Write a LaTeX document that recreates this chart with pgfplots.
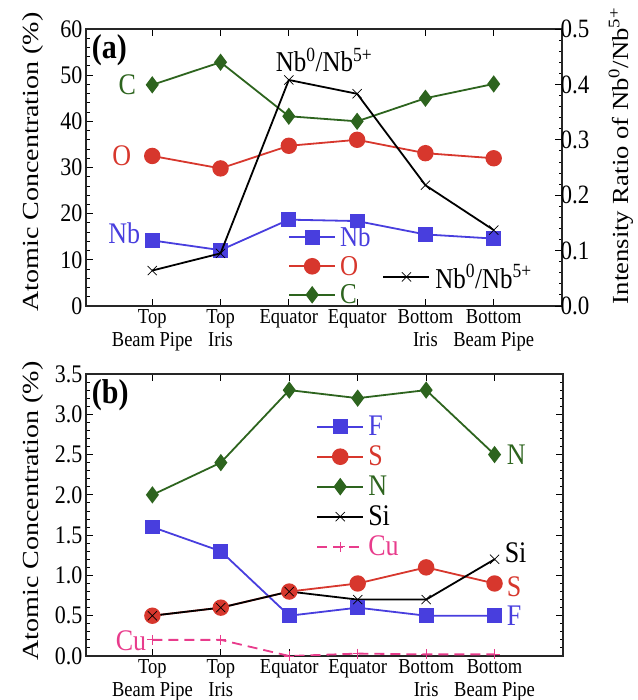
\documentclass[border=0pt]{standalone}
\usepackage{fontspec}
\setmainfont{Liberation Serif}
\usepackage{graphicx}
\usepackage{pgfplots}
\pgfplotsset{compat=1.18}
\definecolor{cblue}{RGB}{72,62,222}
\definecolor{cred}{RGB}{215,55,45}
\definecolor{cgreen}{RGB}{45,100,30}
\definecolor{cpink}{RGB}{232,60,140}
\newcommand{\vs}[1]{\scalebox{1}[1.15]{#1}}
\newcommand{\ratio}{Nb\textsuperscript{0}/Nb\textsuperscript{5+}}
\newcommand{\tl}[1]{\vs{\begin{tabular}[t]{@{}c@{}}#1\end{tabular}}}
\pgfplotsset{
  base/.style={
    scale only axis, anchor=south west,
    xmin=-0.97, xmax=6.0,
    tick align=inside, major tick length=7pt, minor tick length=3.5pt,
    every tick/.style={line width=0.9pt, black},
    axis line style={line width=1.3pt, black!85},
    /pgf/number format/assume math mode=true,
    tick label style={font=\fontsize{22}{24}\selectfont},
    yticklabel={\vs{\pgfmathprintnumber{\tick}}},
    label style={font=\fontsize{23}{25}\selectfont},
    legend image code/.code={\draw[mark repeat=2, mark phase=2, #1, line width=2pt] plot coordinates {(0pt,0pt) (23pt,0pt) (46pt,0pt)};},
  },
  xcat/.style={
    xtick={0,...,5}, xtick pos=both, xticklabel pos=bottom,
    xticklabels={{\tl{Top\\Beam Pipe}},{\tl{Top\\Iris}},{\tl{Equator}},{\tl{Equator}},{\tl{Bottom\\Iris}},{\tl{Bottom\\Beam Pipe}}},
    xticklabel style={anchor=north, font=\fontsize{18.5}{19.5}\selectfont, yshift=1.5pt},
  },
}
\begin{document}
\begin{tikzpicture}
\path[use as bounding box] (0pt,0pt) rectangle (637pt,700pt);
% ---------------- panel (a) left axis
\begin{axis}[base, xcat,
  at={(86pt,394pt)}, width=476pt, height=277pt,
  ymin=0, ymax=60, ytick={0,10,...,60}, minor y tick num=4, ytick pos=left,
  ylabel={\scalebox{1.22}[1]{Atomic Concentration (\%)}},
  ylabel style={at={(axis description cs:-0.111,0.52)}, anchor=center},
  legend style={draw=none, fill=none, at={(axis description cs:0.418,0.145)}, anchor=west,
    font=\fontsize{25}{27}\selectfont, nodes={inner sep=0pt},
    row sep=8pt, column sep=4pt},
  legend cell align=left,
]
\addplot[line width=1.8pt, cblue, mark=square*, mark size=6.5pt, mark options={solid}] coordinates {(0,14.2) (1,12.1) (2,18.7) (3,18.4) (4,15.5) (5,14.6)};
\addlegendentry{\vs{\textcolor{cblue}{Nb}}}
\addplot[line width=1.8pt, cred, mark=*, mark size=7.3pt, mark options={solid}] coordinates {(0,32.5) (1,29.8) (2,34.7) (3,36.0) (4,33.1) (5,32.0)};
\addlegendentry{\vs{\textcolor{cred}{O}}}
\addplot[line width=1.8pt, cgreen, mark=diamond*, mark size=7.2pt, mark options={solid}] coordinates {(0,47.9) (1,52.8) (2,41.1) (3,40.0) (4,45.0) (5,48.1)};
\addlegendentry{\vs{\textcolor{cgreen}{C}}}
\node[anchor=east, font=\fontsize{26}{28}\selectfont, text=cgreen, inner sep=0pt] at ([xshift=-16pt]axis cs:0,47.9) {\vs{C}};
\node[anchor=east, font=\fontsize{26}{28}\selectfont, text=cred, inner sep=0pt] at ([xshift=-21pt]axis cs:0,32.5) {\vs{O}};
\node[anchor=east, font=\fontsize{26}{28}\selectfont, text=cblue, inner sep=0pt] at ([xshift=-12pt,yshift=7pt]axis cs:0,14.2) {\vs{Nb}};
\node[anchor=west, font=\bfseries\fontsize{30}{32}\selectfont, inner sep=0pt] at (axis description cs:0.012,0.924) {\vs{(a)}};
\node[anchor=center, font=\fontsize{25}{27}\selectfont, inner sep=0pt] at (axis description cs:0.5,0.888) {\vs{\ratio}};
\end{axis}
% ---------------- panel (a) right axis
\begin{axis}[base,
  at={(86pt,394pt)}, width=476pt, height=277pt,
  axis x line=none, axis y line*=right,
  ymin=0, ymax=0.5, ytick={0,0.1,...,0.5}, minor y tick num=4,
  yticklabel style={/pgf/number format/fixed, /pgf/number format/fixed zerofill, /pgf/number format/precision=1, xshift=-5pt, font=\fontsize{23}{25}\selectfont},
  ylabel={\scalebox{1.16}[1]{Intensity Ratio of \ratio}},
  ylabel style={at={(axis description cs:1.124,0.542)}, anchor=center},
  legend style={draw=none, fill=none, at={(axis description cs:0.616,0.105)}, anchor=west,
    font=\fontsize{25}{27}\selectfont, nodes={inner sep=0pt}, column sep=5pt},
]
\addplot[line width=1.8pt, black, mark=x, mark size=6.5pt, mark options={line width=0.7pt}] coordinates {(0,0.064) (1,0.095) (2,0.408) (3,0.383) (4,0.218) (5,0.137)};
\addlegendentry{\vs{\ratio}}
\end{axis}
% ---------------- panel (b)
\begin{axis}[base, xcat,
  at={(86pt,44pt)}, width=477pt, height=282pt,
  ymin=0, ymax=3.5, ytick={0,0.5,...,3.5}, minor y tick num=4, ytick pos=both,
  yticklabel style={/pgf/number format/fixed, /pgf/number format/fixed zerofill, /pgf/number format/precision=1},
  ylabel={\scalebox{1.22}[1]{Atomic Concentration (\%)}},
  ylabel style={at={(axis description cs:-0.111,0.514)}, anchor=center},
  legend style={draw=none, fill=none, at={(axis description cs:0.476,0.600)}, anchor=west,
    font=\fontsize{26}{28}\selectfont, nodes={inner sep=0pt},
    row sep=8.8pt, column sep=4pt},
  legend cell align=left,
]
\addplot[line width=1.8pt, cblue, mark=square*, mark size=6.5pt, mark options={solid}] coordinates {(0,1.6) (1,1.3) (2,0.5) (3,0.6) (4,0.5) (5,0.5)};
\addlegendentry{\vs{\textcolor{cblue}{F}}}
\addplot[line width=1.8pt, cred, mark=*, mark size=7.3pt, mark options={solid}] coordinates {(0,0.5) (1,0.6) (2,0.8) (3,0.9) (4,1.1) (5,0.9)};
\addlegendentry{\vs{\textcolor{cred}{S}}}
\addplot[line width=1.8pt, cgreen, mark=diamond*, mark size=7.2pt, mark options={solid}] coordinates {(0,2.0) (1,2.4) (2,3.3) (3,3.2) (4,3.3) (5,2.5)};
\addlegendentry{\vs{\textcolor{cgreen}{N}}}
\addplot[line width=1.8pt, black, mark=x, mark size=6.5pt, mark options={line width=0.7pt}] coordinates {(0,0.5) (1,0.6) (2,0.8) (3,0.7) (4,0.7) (5,1.2)};
\addlegendentry{\vs{Si}}
\addplot[line width=1.8pt, cpink, dash pattern=on 10pt off 6pt, mark=+, mark size=5pt, mark options={solid, line width=0.8pt}] coordinates {(0,0.2) (1,0.2) (2,0.0) (3,0.03) (4,0.02) (5,0.02)};
\addlegendentry{\vs{\textcolor{cpink}{Cu}}}
\node[anchor=west, font=\fontsize{26}{28}\selectfont, text=cgreen, inner sep=0pt] at ([xshift=12pt]axis cs:5,2.5) {\vs{N}};
\node[anchor=west, font=\fontsize{26}{28}\selectfont, text=black, inner sep=0pt] at ([xshift=10pt,yshift=7pt]axis cs:5,1.2) {\vs{Si}};
\node[anchor=west, font=\fontsize{26}{28}\selectfont, text=cred, inner sep=0pt] at ([xshift=12pt,yshift=-3pt]axis cs:5,0.9) {\vs{S}};
\node[anchor=west, font=\fontsize{26}{28}\selectfont, text=cblue, inner sep=0pt] at ([xshift=12pt]axis cs:5,0.5) {\vs{F}};
\node[anchor=east, font=\fontsize{26}{28}\selectfont, text=cpink, inner sep=0pt] at ([xshift=-6pt,yshift=-1pt]axis cs:0,0.2) {\vs{Cu}};
\node[anchor=west, font=\bfseries\fontsize{30}{32}\selectfont, inner sep=0pt] at (axis description cs:0.012,0.926) {\vs{(b)}};
\end{axis}
\end{tikzpicture}
\end{document}
